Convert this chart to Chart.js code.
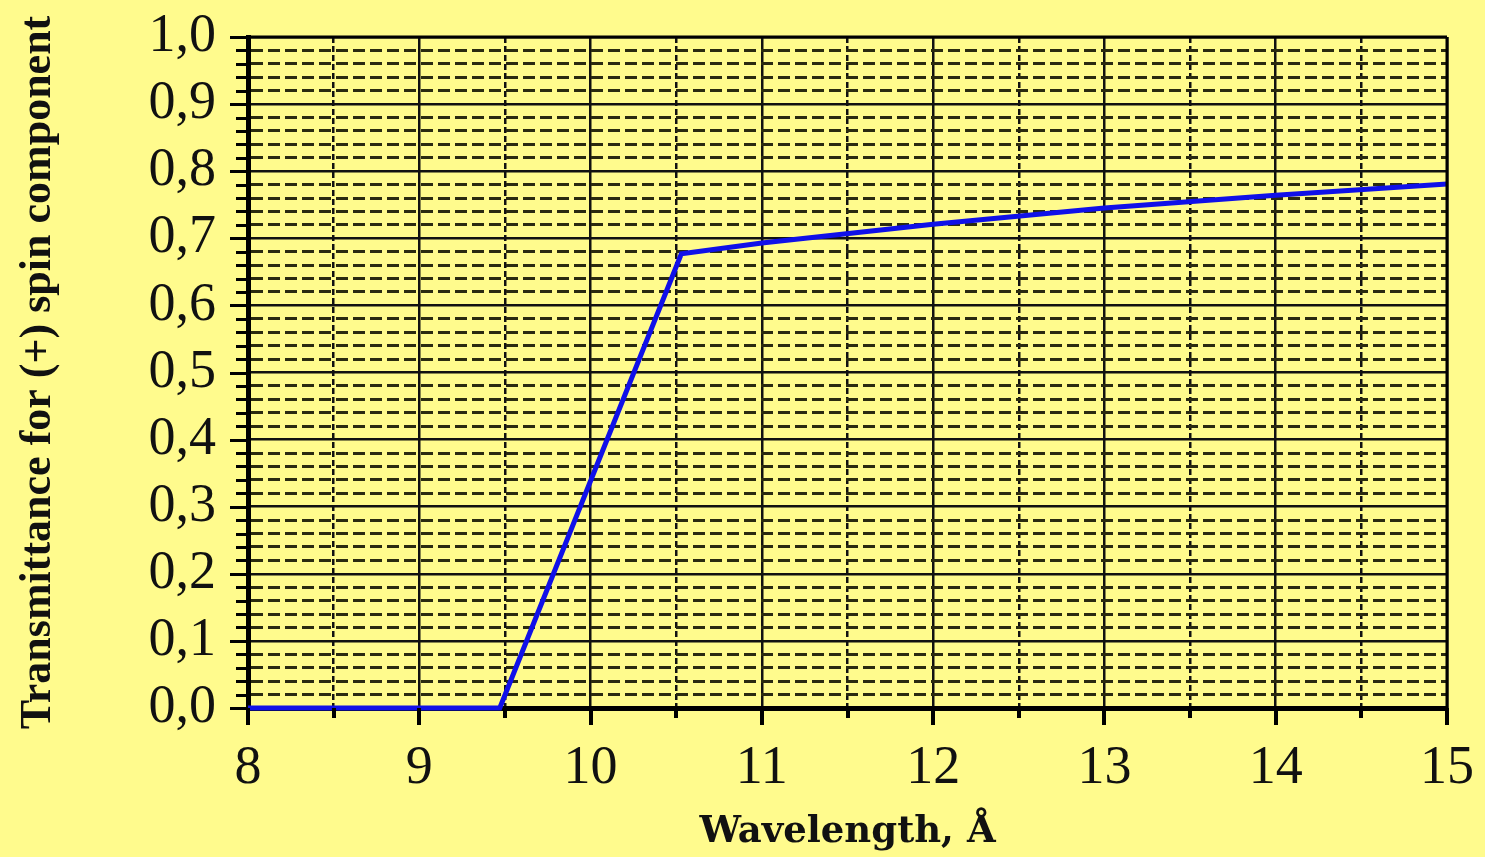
<!DOCTYPE html>
<html>
<head>
<meta charset="utf-8">
<script src="https://cdn.jsdelivr.net/npm/chart.js@4/dist/chart.umd.min.js"></script>
<style>
  html, body { margin: 0; padding: 0; background: #FFFB8D; }
  #wrap { width: 1485px; height: 857px; }
</style>
</head>
<body>
<div id="wrap"><canvas id="c" width="1485" height="857"></canvas></div>
<script>
// ---- Data ----
const wavelength    = [8, 9.47, 10.53, 11, 12, 13, 14, 15];
const transmittance = [0, 0, 0.677, 0.693, 0.721, 0.745, 0.764, 0.781];

// ---- Tick labels ----
const xTickValues = [8, 9, 10, 11, 12, 13, 14, 15];
const xTickLabels = ['8', '9', '10', '11', '12', '13', '14', '15'];
const yTickValues = [0, 0.1, 0.2, 0.3, 0.4, 0.5, 0.6, 0.7, 0.8, 0.9, 1.0];
const yTickLabels = ['0,0', '0,1', '0,2', '0,3', '0,4', '0,5', '0,6', '0,7', '0,8', '0,9', '1,0'];
const xMinorPerMajor = 1;   // one minor (half-step) between integer ticks
const yMinorPerMajor = 4;   // four minor lines between 0.1 steps

const xTitle = 'Wavelength, Å';
const yTitle = 'Transmittance for (+) spin component';

function buildTicks(majors, nMinor) {
  const out = [];
  for (let i = 0; i < majors.length; i++) {
    out.push({ value: majors[i], major: true });
    if (i < majors.length - 1) {
      const step = (majors[i + 1] - majors[i]) / (nMinor + 1);
      for (let k = 1; k <= nMinor; k++) {
        out.push({ value: +(majors[i] + k * step).toFixed(6), major: false });
      }
    }
  }
  return out;
}
function isMajor(list, v) { return list.some(m => Math.abs(m - v) < 1e-6); }

const tickMarks = {
  id: 'tickMarks',
  afterDatasetsDraw(chart) {
    const ctx = chart.ctx;
    const { left, right, top, bottom } = chart.chartArea;
    const xs = chart.scales.x, ys = chart.scales.y;
    ctx.save();
    ctx.strokeStyle = '#000';
    ctx.setLineDash([]);
    ys.ticks.forEach(t => {
      const y = Math.round(ys.getPixelForValue(t.value)) + 0.5;
      const maj = isMajor(yTickValues, t.value);
      ctx.lineWidth = 3;
      ctx.beginPath();
      ctx.moveTo(left, y);
      ctx.lineTo(left - (maj ? 18 : 12), y);
      ctx.stroke();
    });
    xs.ticks.forEach(t => {
      const x = Math.round(xs.getPixelForValue(t.value));
      const maj = isMajor(xTickValues, t.value);
      ctx.lineWidth = 4;
      ctx.beginPath();
      ctx.moveTo(x, bottom);
      ctx.lineTo(x, bottom + (maj ? 17 : 10));
      ctx.stroke();
    });
    ctx.lineWidth = 3;
    ctx.beginPath();
    ctx.moveTo(left, top);
    ctx.lineTo(right, top);
    ctx.moveTo(right, top);
    ctx.lineTo(right, bottom);
    ctx.stroke();
    ctx.restore();
  }
};

new Chart(document.getElementById('c'), {
  type: 'line',
  data: {
    datasets: [{
      data: wavelength.map((w, i) => ({ x: w, y: transmittance[i] })),
      borderColor: '#1010E8',
      borderWidth: 5,
      pointRadius: 0,
      tension: 0,
      fill: false,
      clip: 6
    }]
  },
  options: {
    responsive: false,
    animation: false,
    devicePixelRatio: 1,
    layout: { padding: { left: 0, top: 37, right: 38, bottom: 0 } },
    plugins: { legend: { display: false }, tooltip: { enabled: false } },
    scales: {
      x: {
        type: 'linear',
        min: 8, max: 15,
        afterBuildTicks(s) { s.ticks = buildTicks(xTickValues, xMinorPerMajor); },
        afterFit(s) { s.height = 149; s.paddingLeft = 0; s.paddingRight = 0; },
        ticks: {
          autoSkip: false, maxRotation: 0, minRotation: 0,
          padding: 28,
          color: '#111',
          font: { family: '"Liberation Serif", serif', size: 54 },
          callback(v) { const i = xTickValues.findIndex(m => Math.abs(m - v) < 1e-6); return i >= 0 ? xTickLabels[i] : ''; }
        },
        grid: {
          drawTicks: false,
          color: '#111',
          lineWidth: 2.5
        },
        border: {
          display: true, color: '#000', width: 5,
          dash: c => (c.tick && !isMajor(xTickValues, c.tick.value)) ? [6, 3] : []
        },
        title: {
          display: true, text: xTitle, color: '#111',
          font: { family: '"DejaVu Serif", serif', size: 37, weight: 'bold' },
          padding: { top: 0, bottom: 2 }
        }
      },
      y: {
        type: 'linear',
        min: 0, max: 1,
        afterBuildTicks(s) { s.ticks = buildTicks(yTickValues, yMinorPerMajor); },
        afterFit(s) { s.width = 248; s.paddingTop = 0; s.paddingBottom = 0; },
        ticks: {
          autoSkip: false,
          padding: 32,
          color: '#111',
          font: { family: '"Liberation Serif", serif', size: 54 },
          callback(v) { const i = yTickValues.findIndex(m => Math.abs(m - v) < 1e-6); return i >= 0 ? yTickLabels[i] : ''; }
        },
        grid: {
          drawTicks: false,
          color: c => (c.tick && isMajor(yTickValues, c.tick.value)) ? '#111' : '#2a2a10',
          lineWidth: c => (c.tick && isMajor(yTickValues, c.tick.value)) ? 2.5 : 3
        },
        border: {
          display: true, color: '#000', width: 5,
          dash: c => (c.tick && !isMajor(yTickValues, c.tick.value)) ? [12, 5] : []
        },
        title: {
          display: true, text: yTitle, color: '#111',
          font: { family: '"Liberation Serif", serif', size: 44, weight: 'bold' },
          padding: { top: 12, bottom: 0 }
        }
      }
    }
  },
  plugins: [tickMarks]
});
</script>
</body>
</html>
